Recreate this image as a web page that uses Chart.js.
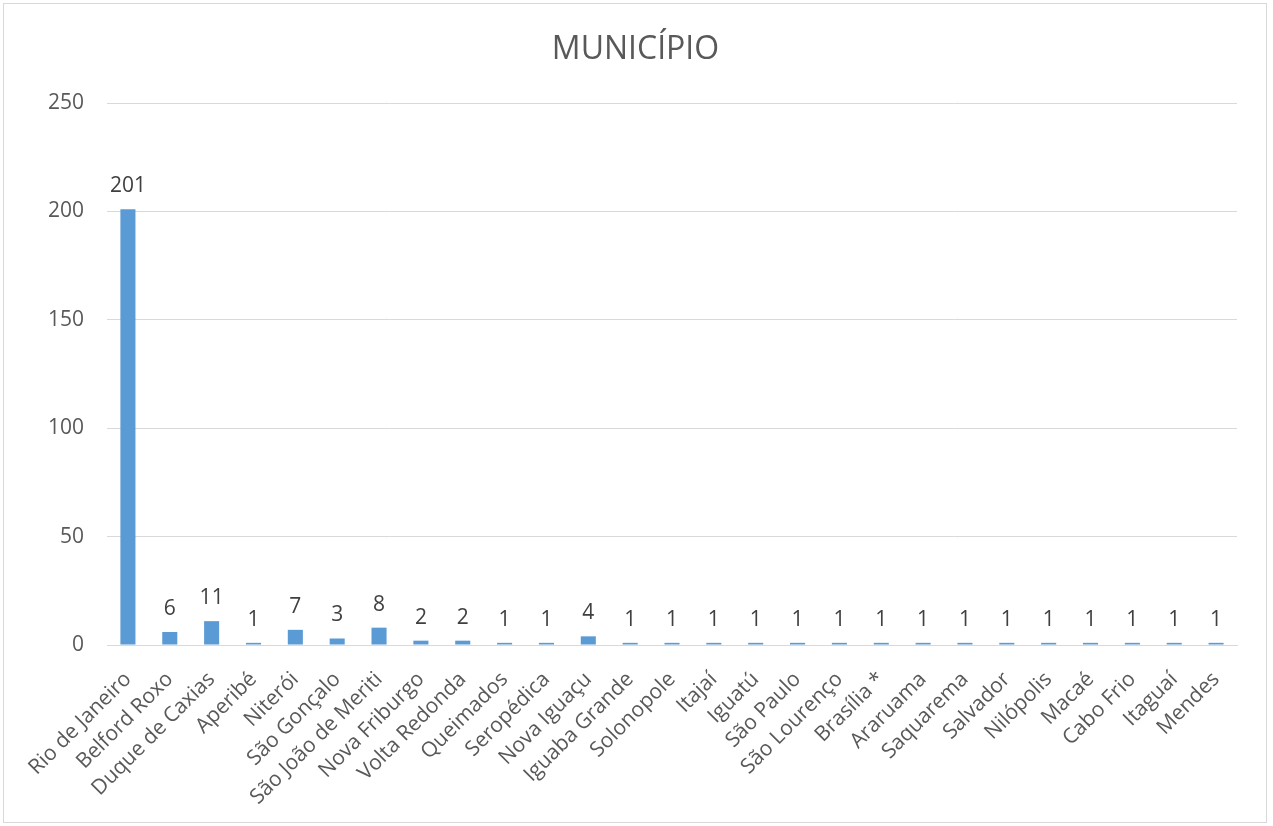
<!DOCTYPE html>
<html>
<head>
<meta charset="utf-8">
<script src="https://cdn.jsdelivr.net/npm/chart.js@4/dist/chart.umd.min.js"></script>
<style>
  html, body { margin: 0; padding: 0; background: #fff; }
  #wrap { position: relative; width: 1273px; height: 826px; }
  #frame { position: absolute; left: 3px; top: 3px; width: 1262px; height: 818px; border: 1px solid #d9d9d9; pointer-events: none; }
  canvas { position: absolute; left: 0; top: 0; }
</style>
</head>
<body>
<div id="wrap">
  <canvas id="c" width="1273" height="826"></canvas>
  <div id="frame"></div>
</div>
<script>
const chartTitle = "MUNICÍPIO";
const categories = ["Rio de Janeiro", "Belford Roxo", "Duque de Caxias", "Aperibé", "Niterói", "São Gonçalo", "São João de Meriti", "Nova Friburgo", "Volta Redonda", "Queimados", "Seropédica", "Nova Iguaçu", "Iguaba Grande", "Solonopole", "Itajaí", "Iguatú", "São Paulo", "São Lourenço", "Brasília *", "Araruama", "Saquarema", "Salvador", "Nilópolis", "Macaé", "Cabo Frio", "Itaguaí", "Mendes"];
const values = [201, 6, 11, 1, 7, 3, 8, 2, 2, 1, 1, 4, 1, 1, 1, 1, 1, 1, 1, 1, 1, 1, 1, 1, 1, 1, 1];
const yTicks = [0, 50, 100, 150, 200, 250];

const FONT = "'Open Sans', 'Noto Sans', sans-serif";

const valueLabels = {
  id: 'valueLabels',
  afterDatasetsDraw(chart) {
    const ctx = chart.ctx;
    const meta = chart.getDatasetMeta(0);
    ctx.save();
    ctx.font = "21px " + FONT;
    ctx.fillStyle = "#404040";
    ctx.textAlign = "center";
    ctx.textBaseline = "alphabetic";
    meta.data.forEach((bar, i) => {
      ctx.fillText(String(values[i]), bar.x, bar.y - 17);
    });
    ctx.restore();
  }
};

const titlePlugin = {
  id: 'customTitle',
  afterDraw(chart) {
    const ctx = chart.ctx;
    ctx.save();
    ctx.font = "32px " + FONT;
    ctx.fillStyle = "#595959";
    ctx.textAlign = "center";
    ctx.textBaseline = "alphabetic";
    ctx.fillText(chartTitle, chart.width / 2 - 1, 59);
    ctx.restore();
  }
};

new Chart(document.getElementById('c'), {
  type: 'bar',
  data: {
    labels: categories,
    datasets: [{
      data: values,
      backgroundColor: '#5b9bd5',
      borderWidth: 0,
      barPercentage: 0.72,
      categoryPercentage: 0.5
    }]
  },
  options: {
    responsive: false,
    animation: false,
    devicePixelRatio: 1,
    layout: { padding: { top: 103, right: 36, left: 0, bottom: 0 } },
    plugins: {
      legend: { display: false },
      title: { display: false },
      tooltip: { enabled: false }
    },
    scales: {
      x: {
        grid: { display: false, drawTicks: false },
        border: { display: true, color: '#d9d9d9', width: 1 },
        ticks: {
          color: '#595959',
          font: { family: FONT, size: 21 },
          maxRotation: 45,
          minRotation: 45,
          autoSkip: false,
          padding: 22
        },
        afterFit(scale) { scale.height = 181; }
      },
      y: {
        min: 0,
        max: 250,
        afterBuildTicks(scale) { scale.ticks = yTicks.map(v => ({ value: v })); },
        grid: { color: '#d9d9d9', drawTicks: false },
        border: { display: false },
        ticks: {
          color: '#595959',
          font: { family: FONT, size: 21 },
          padding: 23
        },
        afterFit(scale) { scale.width = 107; }
      }
    }
  },
  plugins: [valueLabels, titlePlugin]
});
</script>
</body>
</html>
